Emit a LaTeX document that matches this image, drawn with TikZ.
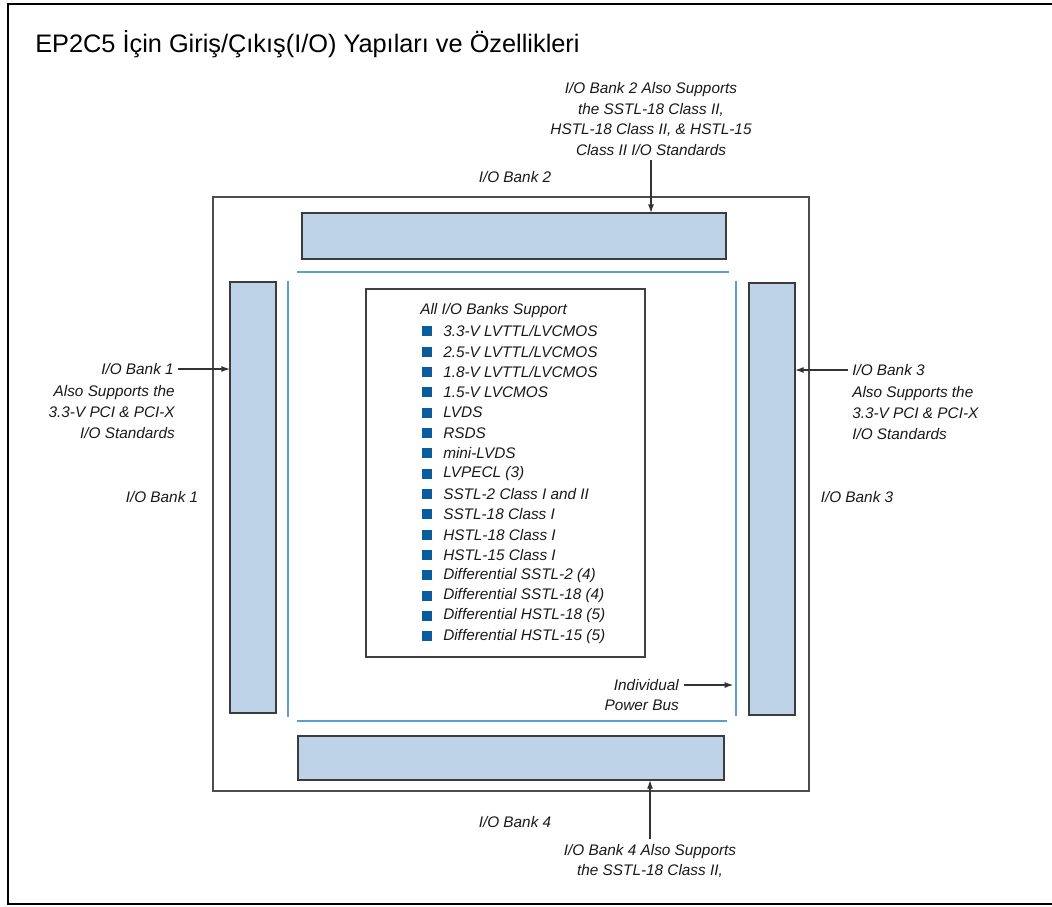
\documentclass[tikz,border=0pt]{standalone}
\usepackage{fontspec}
\setmainfont{Liberation Sans}
\usetikzlibrary{arrows.meta}
\definecolor{bankblue}{HTML}{BED2E8}
\definecolor{busblue}{HTML}{5B9FD0}
\definecolor{dotblue}{HTML}{0B5C9E}
\definecolor{edgegray}{HTML}{3C3C3C}
\begin{document}
\begin{tikzpicture}[x=0.75pt,y=-0.75pt,
    bank/.style={draw=edgegray,line width=1.5pt,fill=bankblue,inner sep=0,outer sep=0},
    bus/.style={draw=busblue,line width=1.8pt},
    lbl/.style={font=\fontsize{11.5}{15.5}\selectfont\itshape,text=black!90,inner sep=0},
    pin/.style={draw=black!80,line width=0.9pt,-{Latex[length=6.5pt,width=4.5pt]}},
    dot/.style={fill=dotblue,minimum size=7.5pt,inner sep=0}]
  \useasboundingbox (0,0) rectangle (1052,906);
  % Cadre et titre
  \draw[line width=1pt] (8,4) rectangle (1060,904);
  \node[anchor=base west,inner sep=0,font=\fontsize{19}{23}\selectfont] (titre) at (35,53)
    {EP2C5 İçin Giriş/Çıkış(I/O) Yapıları ve Özellikleri};
  % Puce
  \node[draw=black!70,line width=1.3pt,minimum width=447pt,minimum height=445.5pt,inner sep=0] (puce) at (511,494) {};
  % Banques
  \node[bank,minimum width=318pt,minimum height=34.5pt] (bank2) at (514,236) {};
  \node[bank,minimum width=34.5pt,minimum height=323.25pt] (bank1) at (253,497.5) {};
  \node[bank,minimum width=34.5pt,minimum height=324pt] (bank3) at (772,499) {};
  \node[bank,minimum width=319.5pt,minimum height=33pt] (bank4) at (511,758) {};
  % Bus d'alimentation
  \draw[bus] (297,272) -- (729,272);
  \draw[bus] (288,281) -- (288,717);
  \draw[bus] (736,281) -- (736,716);
  \draw[bus] (297,721) -- (727,721);
  \coordinate (busR) at (736,685);
  % Liste centrale
  \node[draw=black!75,line width=1.2pt,minimum width=209.25pt,minimum height=276pt,inner sep=0] (liste) at (505.5,473) {};
  \node[lbl,anchor=west] (entete) at (420,311) {All I/O Banks Support};
  \foreach \txt [count=\i] in {3.3-V LVTTL/LVCMOS,2.5-V LVTTL/LVCMOS,1.8-V LVTTL/LVCMOS,1.5-V LVCMOS,
      LVDS,RSDS,mini-LVDS,LVPECL (3),SSTL-2 Class I and II,SSTL-18 Class I,HSTL-18 Class I,
      HSTL-15 Class I,Differential SSTL-2 (4),Differential SSTL-18 (4),Differential HSTL-18 (5),
      Differential HSTL-15 (5)}{
    \node[dot] (puce\i) at (427,311+20.33*\i) {};
    \node[lbl,anchor=west] (std\i) at (443,311+20.33*\i) {\txt};
  }
  % Etiquettes
  \node[lbl] (nom2) at (515,177) {I/O Bank 2};
  \node[lbl] (nom1) at (162,497) {I/O Bank 1};
  \node[lbl] (nom3) at (857,497) {I/O Bank 3};
  \node[lbl] (nom4) at (515,822) {I/O Bank 4};
  \node[lbl,align=center] (note2) at (651,119)
    {I/O Bank 2 Also Supports\\the SSTL-18 Class II,\\HSTL-18 Class II, \& HSTL-15\\Class II I/O Standards};
  \node[lbl,anchor=east] (note1) at (174,369) {I/O Bank 1};
  \node[lbl,anchor=east,align=right] (note1b) at (175,412)
    {Also Supports the\\3.3-V PCI \& PCI-X\\I/O Standards};
  \node[lbl,anchor=west] (note3) at (852,370) {I/O Bank 3};
  \node[lbl,anchor=west,align=left] (note3b) at (852,413)
    {Also Supports the\\3.3-V PCI \& PCI-X\\I/O Standards};
  \node[lbl,align=center] (note4) at (650,861) {I/O Bank 4 Also Supports\\the SSTL-18 Class II,};
  \node[lbl,anchor=east] (pwr) at (679,685) {Individual};
  \node[lbl,anchor=east] (pwr2) at (679,705) {Power Bus};
  % Fleches
  \draw[pin] ([yshift=-3pt]note2.south) -- (note2.south |- bank2.north);
  \draw[pin] ([xshift=3pt]note1.east) -- (bank1.west |- note1.east);
  \draw[pin] ([xshift=-3pt]note3.west) -- (bank3.east |- note3.west);
  \draw[pin] ([yshift=4pt]note4.north) -- (note4.north |- bank4.south);
  \draw[pin] ([xshift=4pt]pwr.east) -- ([xshift=-2pt]busR);
\end{tikzpicture}
\end{document}
